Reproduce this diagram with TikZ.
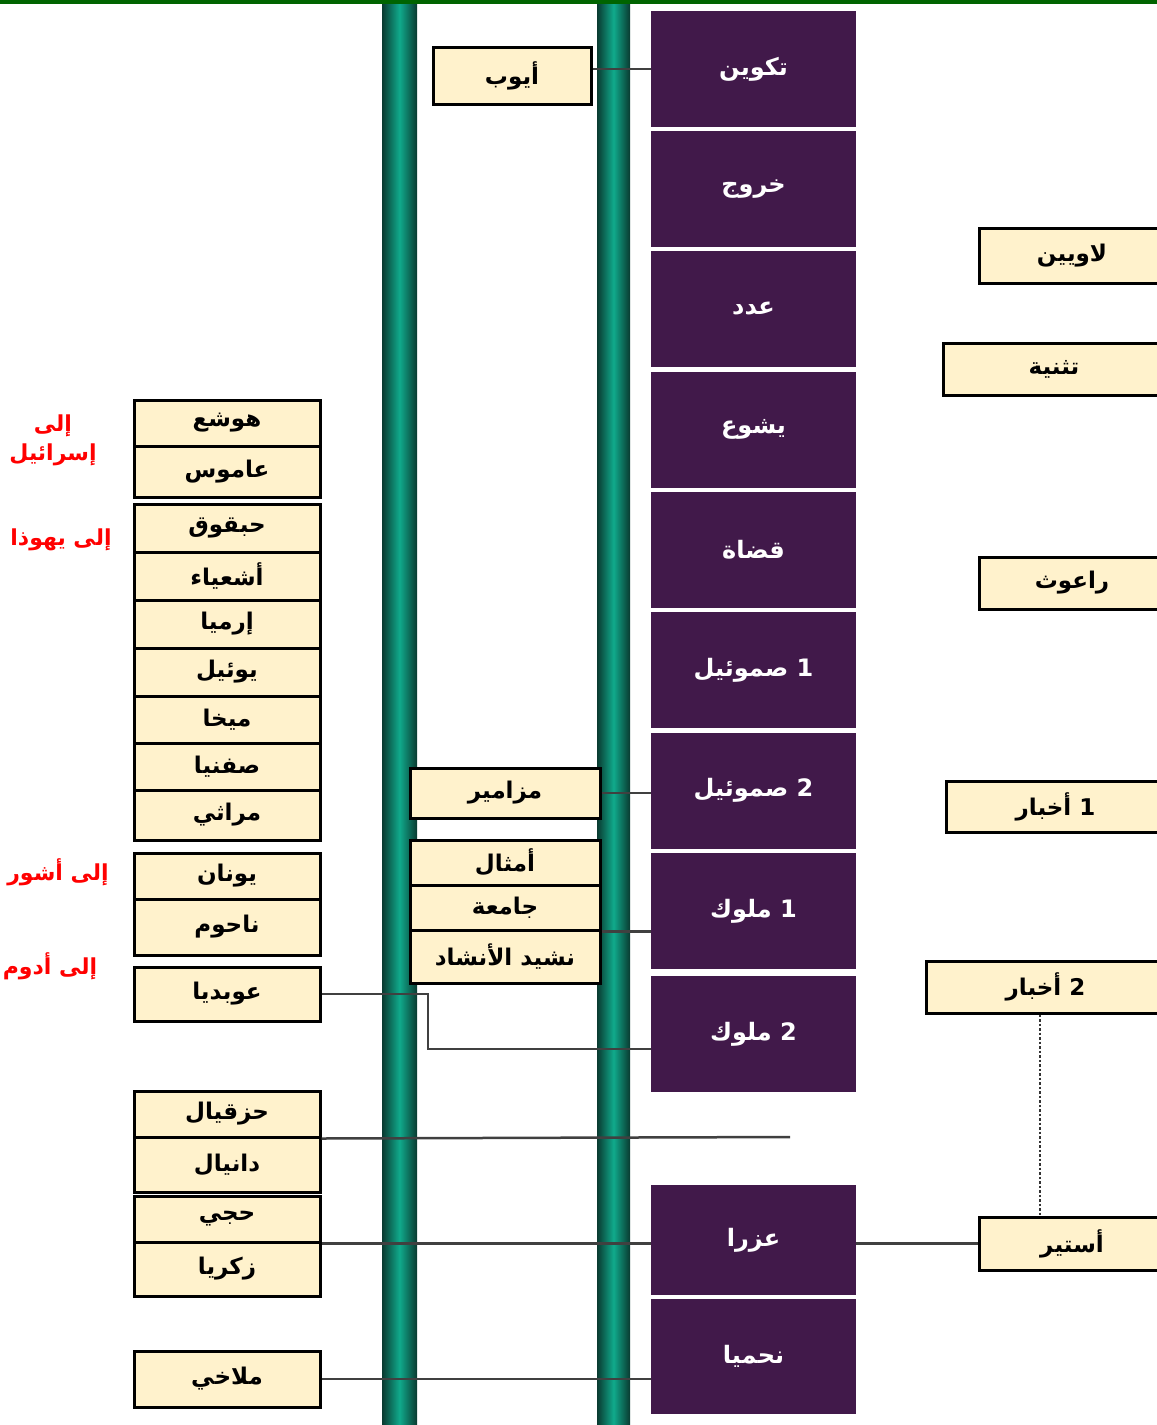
\documentclass[tikz,border=0pt]{standalone}
\usepackage{fontspec}
\newfontfamily\arabicfont[Script=Arabic]{DejaVu Sans}
\TeXXeTstate=1
\newcommand{\rl}[1]{\beginR #1\endR}
\definecolor{bookpurple}{HTML}{41194A}
\definecolor{bookcream}{HTML}{FFF2CC}
\definecolor{railteal}{HTML}{10AA8C}
\definecolor{raildark}{HTML}{0A3A30}
\definecolor{topgreen}{HTML}{006400}

\begin{document}
\begin{tikzpicture}[x=1pt,y=-1pt,
  law/.style={rectangle,fill=bookpurple,text=white,minimum width=205pt,minimum height=116pt,inner sep=0pt,font=\arabicfont\bfseries\fontsize{24}{28}\selectfont},
  book/.style={rectangle,draw,line width=3pt,fill=bookcream,inner sep=0pt,font=\arabicfont\bfseries\fontsize{23}{27}\selectfont},
  prophet/.style={book,minimum width=186pt},
  wisdom/.style={book,minimum width=190pt},
  note/.style={text=red,align=center,font=\arabicfont\bfseries\fontsize{22}{29}\selectfont},
  link/.style={draw=black!75,line width=2.5pt}]
\useasboundingbox (0,0) rectangle (1157,1425);
\clip (0,0) rectangle (1157,1425);

% rails and top rule
\shade[left color=raildark,right color=raildark,middle color=railteal] (382,0) rectangle (417,1425);
\shade[left color=raildark,right color=raildark,middle color=railteal] (597,0) rectangle (630,1425);
\fill[topgreen] (0,0) rectangle (1157,3.5);

% law and history
\node[law] (genesis) at (753.5,69) {\rl{تكوين}};
\node[law] (exodus) at (753.5,189) {\rl{خروج}};
\node[law] (numbers) at (753.5,309) {\rl{عدد}};
\node[law] (joshua) at (753.5,429.5) {\rl{يشوع}};
\node[law] (judges) at (753.5,550) {\rl{قضاة}};
\node[law] (sam1) at (753.5,670) {\rl{1 صموئيل}};
\node[law] (sam2) at (753.5,790.5) {\rl{2 صموئيل}};
\node[law] (kgs1) at (753.5,911) {\rl{1 ملوك}};
\node[law] (kgs2) at (753.5,1034) {\rl{2 ملوك}};
\node[law,minimum height=110pt] (ezra) at (753.5,1240) {\rl{عزرا}};
\node[law,minimum height=115pt] (nehemiah) at (753.5,1356.5) {\rl{نحميا}};

% right side
\node[book,minimum width=186pt,minimum height=55pt] (leviticus) at (1072,255.5) {\rl{لاويين}};
\node[book,minimum width=222pt,minimum height=52pt] (deut) at (1054,369) {\rl{تثنية}};
\node[book,minimum width=186pt,minimum height=52pt] (ruth) at (1072,583) {\rl{راعوث}};
\node[book,minimum width=219pt,minimum height=51pt] (chron1) at (1055.5,806.5) {\rl{1 أخبار}};
\node[book,minimum width=239pt,minimum height=52pt] (chron2) at (1045.5,987) {\rl{2 أخبار}};
\node[book,minimum width=186pt,minimum height=53pt] (esther) at (1072,1243.5) {\rl{أستير}};

% poetry
\node[book,minimum width=158pt,minimum height=57pt] (job) at (512,75.5) {\rl{أيوب}};
\node[wisdom,minimum height=50pt] (psalms) at (505,793) {\rl{مزامير}};
\node[wisdom,minimum height=45pt] (proverbs) at (505,862.5) {\rl{أمثال}};
\node[wisdom,minimum height=45pt] (eccl) at (505,907.5) {\rl{جامعة}};
\node[wisdom,minimum height=53pt] (song) at (505,956.5) {\rl{نشيد الأنشاد}};

% prophets
\node[prophet,minimum height=46pt] (hosea) at (227,423) {\rl{هوشع}};
\node[prophet,minimum height=51pt] (amos) at (227,471.5) {\rl{عاموس}};
\node[prophet,minimum height=48pt] (habakkuk) at (227,528) {\rl{حبقوق}};
\node[prophet,minimum height=48pt] (isaiah) at (227,576) {\rl{أشعياء}};
\node[prophet,minimum height=48pt] (jeremiah) at (227,624) {\rl{إرميا}};
\node[prophet,minimum height=48pt] (joel) at (227,672) {\rl{يوئيل}};
\node[prophet,minimum height=47pt] (micah) at (227,719.5) {\rl{ميخا}};
\node[prophet,minimum height=47pt] (zephaniah) at (227,766.5) {\rl{صفنيا}};
\node[prophet,minimum height=50pt] (lament) at (227,815) {\rl{مراثي}};
\node[prophet,minimum height=46pt] (jonah) at (227,876) {\rl{يونان}};
\node[prophet,minimum height=56pt] (nahum) at (227,927) {\rl{ناحوم}};
\node[prophet,minimum height=54pt] (obadiah) at (227,994) {\rl{عوبديا}};
\node[prophet,minimum height=46pt] (ezekiel) at (227,1114) {\rl{حزقيال}};
\node[prophet,minimum height=55pt] (daniel) at (227,1164.5) {\rl{دانيال}};
\node[prophet,minimum height=46pt] (haggai) at (227,1219) {\rl{حجي}};
\node[prophet,minimum height=54pt] (zechariah) at (227,1269) {\rl{زكريا}};
\node[prophet,minimum height=56pt] (malachi) at (227,1379) {\rl{ملاخي}};

% who they spoke to
\node[note] (toisrael) at (53,440) {\rl{إلى}\\\rl{إسرائيل}};
\node[note] (tojudah) at (61,540) {\rl{إلى يهوذا}};
\node[note] (toassyria) at (58,872) {\rl{إلى أشور}};
\node[note] (toedom) at (50,966) {\rl{إلى أدوم}};

% links
\coordinate (obbend) at (428,1049);
\coordinate (exile) at (790,1137);
\coordinate (dotx) at (1040,0);
\draw[link] (job.east |- genesis.west) -- (genesis.west);
\draw[link] (psalms.east) -- (psalms.east -| sam2.west);
\draw[link] (eccl.south east) -- (eccl.south east -| kgs1.west);
\draw[link] (obadiah.east) -| (obbend) -- (obbend -| kgs2.west);
\draw[link] (ezekiel.south east) -- (exile);
\draw[link] (haggai.south east) -- (haggai.south east -| ezra.west);
\draw[link] (malachi.east) -- (malachi.east -| nehemiah.west);
\draw[link] (esther.west) -- (esther.west -| ezra.east);
\draw[line width=2.5pt,dotted,black!80] (chron2.south -| dotx) -- (esther.north -| dotx);
\end{tikzpicture}
\end{document}
